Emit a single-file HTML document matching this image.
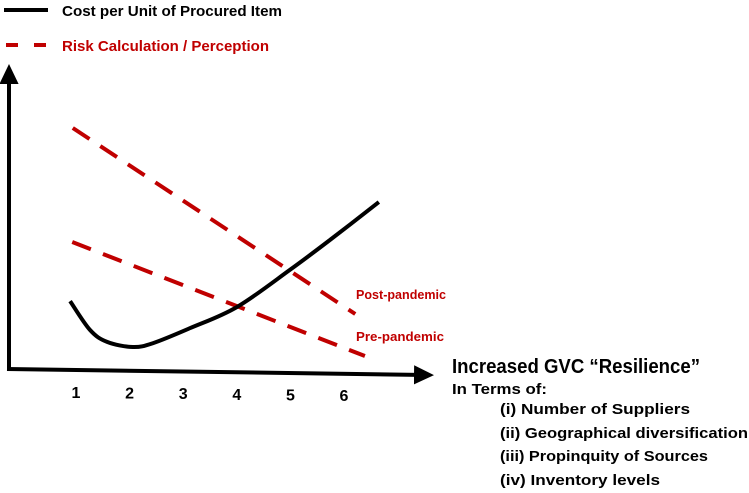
<!DOCTYPE html>
<html><head><meta charset="utf-8"><style>
html,body{margin:0;padding:0;background:#fff;}
svg{display:block;font-family:"Liberation Sans",sans-serif;font-weight:bold;}
</style></head><body>
<svg id="chart" width="749" height="493" viewBox="0 0 749 493">
<defs>
<marker id="arr" markerWidth="6" markerHeight="6" refX="3" refY="3" orient="auto" markerUnits="strokeWidth">
<path d="M0,0.6 L5,3 L0,5.4 Z" fill="#000"/></marker>
</defs>
<g>
<line x1="4" y1="10" x2="48" y2="10" stroke="#000" stroke-width="4"/>
<text x="62" y="16" font-size="15" fill="#000" textLength="220" lengthAdjust="spacingAndGlyphs">Cost per Unit of Procured Item</text>
<line x1="6" y1="45" x2="46" y2="45" stroke="#c00000" stroke-width="4" stroke-dasharray="12,16"/>
<text x="62" y="51" font-size="15" fill="#c00000" textLength="207" lengthAdjust="spacingAndGlyphs">Risk Calculation / Perception</text>
</g>
<line x1="9" y1="370" x2="9" y2="72" stroke="#000" stroke-width="4" marker-end="url(#arr)"/>
<line x1="7" y1="369" x2="426" y2="375" stroke="#000" stroke-width="4" marker-end="url(#arr)"/>
<g id="ticks"></g>
<g id="series"></g>
<text x="356" y="299" font-size="13" fill="#c00000" textLength="90" lengthAdjust="spacingAndGlyphs">Post-pandemic</text>
<text x="356" y="341" font-size="13" fill="#c00000" textLength="88" lengthAdjust="spacingAndGlyphs">Pre-pandemic</text>
<g>
<text x="452" y="373" font-size="20" fill="#000" textLength="248" lengthAdjust="spacingAndGlyphs">Increased GVC “Resilience”</text>
<text x="452" y="394" font-size="15" fill="#000" textLength="95" lengthAdjust="spacingAndGlyphs">In Terms of:</text>
<text x="500" y="414" font-size="15" fill="#000" textLength="190" lengthAdjust="spacingAndGlyphs">(i)  Number of Suppliers</text>
<text x="500" y="438" font-size="15" fill="#000" textLength="248" lengthAdjust="spacingAndGlyphs">(ii) Geographical diversification</text>
<text x="500" y="461" font-size="15" fill="#000" textLength="208" lengthAdjust="spacingAndGlyphs">(iii) Propinquity of Sources</text>
<text x="500" y="485" font-size="15" fill="#000" textLength="160" lengthAdjust="spacingAndGlyphs">(iv) Inventory levels</text>
</g>
</svg>
<script>
const tickLabels = ["1","2","3","4","5","6"];
const tickValues = [1,2,3,4,5,6];
const costX = [0.89,1.26,1.58,2.06,2.44,3.13,4.0,4.99,5.74,6.65];
const costY = [2.23,1.27,0.87,0.7,0.83,1.33,2.03,3.27,4.27,5.53];
const postX = [0.94,6.21];
const postY = [8.0,1.8];
const preX = [0.93,6.39];
const preY = [4.2,0.4];

const NS = "http://www.w3.org/2000/svg";
function xs(v){ return 76 + (v-1)*53.6; }
function ys(v){ return 368 - v*30; }
const ticks = document.getElementById('ticks');
tickValues.forEach((v,i)=>{
  const t = document.createElementNS(NS,'text');
  t.setAttribute('x', xs(v));
  t.setAttribute('y', 398 + i*0.6);
  t.setAttribute('text-anchor','middle');
  t.setAttribute('font-size','16');
  t.textContent = tickLabels[i];
  
  
  ticks.appendChild(t);
});
const series = document.getElementById('series');
function smoothPath(X,Y){
  const p = X.map((x,i)=>[xs(x), ys(Y[i])]);
  let d = `M${p[0][0]},${p[0][1]}`;
  for(let i=0;i<p.length-1;i++){
    const p0=p[Math.max(0,i-1)], p1=p[i], p2=p[i+1], p3=p[Math.min(p.length-1,i+2)];
    const c1=[p1[0]+(p2[0]-p0[0])/6, p1[1]+(p2[1]-p0[1])/6];
    const c2=[p2[0]-(p3[0]-p1[0])/6, p2[1]-(p3[1]-p1[1])/6];
    d += ` C${c1[0]},${c1[1]} ${c2[0]},${c2[1]} ${p2[0]},${p2[1]}`;
  }
  return d;
}
function addLine(X,Y,color,dash,name){
  const path = document.createElementNS(NS,'path');
  path.setAttribute('d', smoothPath(X,Y));
  path.setAttribute('fill','none');
  path.setAttribute('stroke',color);
  path.setAttribute('stroke-width','4');
  if(dash) path.setAttribute('stroke-dasharray',dash);
  
  
  series.appendChild(path);
}
addLine(postX,postY,'#c00000','20,13','post-pandemic-risk-line');
addLine(preX,preY,'#c00000','20,13','pre-pandemic-risk-line');
addLine(costX,costY,'#000','', 'cost-per-unit-curve');
</script>
</body></html>
